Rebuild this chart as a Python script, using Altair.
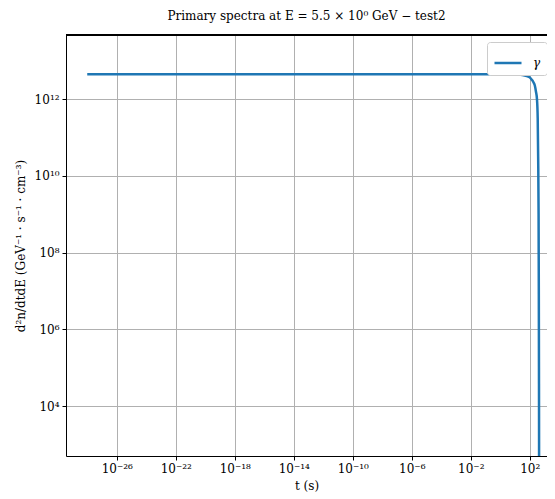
import altair as alt
import pandas as pd
import math

# Data (time in s, spectrum value)
t_values = [1e-28, 1e-20, 1e-10, 1.0, 10.0, 31.6, 63.1, 100.0, 141.0, 178.0,
            219.0, 263.0, 309.0, 347.0, 372.0, 398.0, 412.0, 422.0, 429.0, 432.5]
y_values = [4.47e12, 4.47e12, 4.47e12, 4.47e12, 4.42e12, 4.27e12, 3.98e12, 3.67e12, 3.16e12, 2.75e12,
            2.29e12, 1.58e12, 1.0e12, 3.16e11, 3.16e10, 1.0e9, 1.0e7, 1.0e5, 1.0e3, 10.0]
series = ["γ"] * len(t_values)

x_ticks = [1e-26, 1e-22, 1e-18, 1e-14, 1e-10, 1e-6, 1e-2, 1e2]
x_tick_labels = ["10⁻²⁶", "10⁻²²", "10⁻¹⁸", "10⁻¹⁴", "10⁻¹⁰", "10⁻⁶", "10⁻²", "10²"]
y_ticks = [1e4, 1e6, 1e8, 1e10, 1e12]
y_tick_labels = ["10⁴", "10⁶", "10⁸", "10¹⁰", "10¹²"]

FONT = "DejaVu Serif"

W, H = 481, 421
PX_PER_DECADE = 14.75
x_lo = -29.44
x_domain = [10 ** x_lo, 10 ** (x_lo + W / PX_PER_DECADE)]
y_domain = [10 ** 2.70, 10 ** 13.67]


def label_expr(vals, labels):
    expr = "''"
    for v, l in zip(reversed(vals), reversed(labels)):
        expr = f"abs(log(datum.value)/LN10 - ({round(math.log10(v))})) < 0.01 ? '{l}' : ({expr})"
    return expr


df = pd.DataFrame({"t": t_values, "y": y_values, "series": series})

line = alt.Chart(df).mark_line(clip=True, strokeWidth=2.5, interpolate="monotone").encode(
    x=alt.X("t:Q",
            scale=alt.Scale(type="log", domain=x_domain, nice=False),
            axis=alt.Axis(values=x_ticks, labelExpr=label_expr(x_ticks, x_tick_labels),
                          title="t (s)", grid=True, gridColor="#b0b0b0", gridWidth=1,
                          domainColor="black", domainWidth=1, tickColor="black", tickSize=4,
                          labelFont=FONT, labelFontSize=12, labelColor="black", labelPadding=3,
                          titleFont=FONT, titleFontSize=12, titleFontWeight="normal",
                          titleColor="black", titlePadding=6, labelFlush=False)),
    y=alt.Y("y:Q",
            scale=alt.Scale(type="log", domain=y_domain, nice=False),
            axis=alt.Axis(values=y_ticks, labelExpr=label_expr(y_ticks, y_tick_labels),
                          title="d²n/dtdE (GeV⁻¹ · s⁻¹ · cm⁻³)", grid=True, gridColor="#b0b0b0",
                          gridWidth=1, domainColor="black", domainWidth=1, tickColor="black",
                          tickSize=4, labelFont=FONT, labelFontSize=12, labelColor="black",
                          labelPadding=3, titleFont=FONT, titleFontSize=12,
                          titleFontWeight="normal", titleColor="black", titlePadding=7,
                          labelFlush=False)),
    color=alt.Color("series:N", scale=alt.Scale(range=["#1f77b4"]),
                    legend=alt.Legend(title=None, orient="none", legendX=421, legendY=7,
                                      symbolType="stroke", symbolSize=729, symbolStrokeWidth=2.5,
                                      strokeColor="#cccccc", fillColor="white", cornerRadius=3,
                                      padding=6, labelFont=FONT, labelFontSize=12,
                                      labelFontStyle="italic", labelColor="black", labelOffset=10)),
)

top_border = alt.Chart(df).mark_rule(color="black", strokeWidth=1).encode(
    x=alt.value(0), x2=alt.value(W), y=alt.value(0)
)

chart = alt.layer(line, top_border).properties(
    width=W, height=H,
    title=alt.TitleParams("Primary spectra at E = 5.5 × 10⁰ GeV  − test2", font=FONT,
                          fontSize=12, fontWeight="normal", color="black", offset=12),
    autosize=alt.AutoSizeParams(type="none"),
    padding={"left": 58, "top": 27, "right": 0, "bottom": 42},
).configure_view(stroke=None)

chart.save("out.html", embed_options={"renderer": "svg", "actions": False})
